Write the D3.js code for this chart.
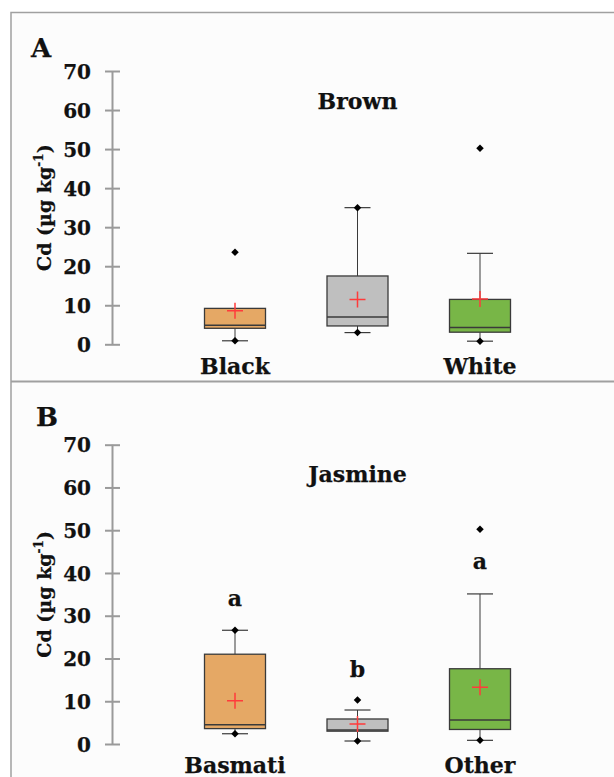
<!DOCTYPE html>
<html><head><meta charset="utf-8">
<script src="https://cdn.jsdelivr.net/npm/d3@7"></script>
<style>body{margin:0;background:#fff}svg{display:block}</style>
</head><body>
<script>
// ---- data ----
const categoriesA = ["Black", "Brown", "White"];
const axisLabelsA = ["Black", "", "White"];
const titleA = "Brown";
const lowA    = [0.9, 3.0, 0.8];
const q1A     = [4.1, 4.7, 3.1];
const medianA = [4.9, 7.0, 4.3];
const q3A     = [9.2, 17.5, 11.5];
const highA   = [9.2, 35.0, 23.3];
const meanA   = [8.6, 11.5, 11.6];
const minA    = [0.9, 3.0, 0.8];
const maxA    = [23.6, 35.0, 50.2];

const categoriesB = ["Basmati", "Jasmine", "Other"];
const axisLabelsB = ["Basmati", "", "Other"];
const titleB = "Jasmine";
const lowB    = [2.4, 0.7, 0.86];
const q1B     = [3.6, 3.0, 3.4];
const medianB = [4.5, 3.3, 5.6];
const q3B     = [21.0, 5.85, 17.6];
const highB   = [26.6, 7.95, 35.1];
const meanB   = [10.1, 4.7, 13.3];
const minB    = [2.4, 0.7, 0.86];
const maxB    = [26.6, 10.3, 50.2];
const lettersB = ["a", "b", "a"];
const letterValB = [32.3, 15.7, 40.9];

const yTicks = [0, 10, 20, 30, 40, 50, 60, 70];
const colors = ["#E5A865", "#BFBFBF", "#78B647"];

// ---- drawing ----
const W = 614, H = 777;
const svg = d3.select("body").append("svg").attr("width", W).attr("height", H);
const FONT = "'DejaVu Serif', serif";
const TXT = "#111";

function styleText(sel, size) {
  return sel.attr("font-family", FONT).attr("font-weight", "bold").attr("font-size", size)
    .attr("fill", TXT).attr("stroke", TXT).attr("stroke-width", 0.25);
}

svg.append("rect").attr("x", 11).attr("y", 12).attr("width", W - 11).attr("height", H - 12).attr("fill", "#fcfcfc");
svg.append("path").attr("d", `M11,${H} V12.5 H${W}`).attr("fill", "none").attr("stroke", "#a0a0a0").attr("stroke-width", 1.5);
svg.append("line").attr("x1", 11).attr("x2", W).attr("y1", 381.5).attr("y2", 381.5).attr("stroke", "#a0a0a0").attr("stroke-width", 2);

function panel(cfg) {
  const g = svg.append("g");
  const x = d3.scalePoint().domain(cfg.cats).range([235, 480]);
  const y = d3.scaleLinear().domain([0, 70]).range(cfg.yRange);
  const axisX = 112.5;

  // axis
  const ax = g.append("g").attr("transform", `translate(${axisX},0)`)
    .call(d3.axisLeft(y).tickValues(yTicks).tickSize(7.5).tickPadding(14));
  ax.select(".domain").remove();
  ax.append("line").attr("y1", y(0)).attr("y2", y(70)).attr("stroke", "#9a9a9a").attr("stroke-width", 2);
  ax.selectAll(".tick line").attr("x2", 7.5).attr("x1", -7.5).attr("stroke", "#9a9a9a").attr("stroke-width", 2);
  styleText(ax.selectAll(".tick text"), 20).attr("dy", "0.36em");

  // axis title
  const tt = styleText(g.append("text"), 19)
    .attr("transform", `translate(51,${(cfg.yRange[0] + cfg.yRange[1]) / 2}) rotate(-90)`)
    .attr("text-anchor", "middle");
  tt.append("tspan").text("Cd (µg kg");
  tt.append("tspan").text("-1").attr("font-size", 12).attr("dy", -8);
  tt.append("tspan").text(")").attr("dy", 8);

  // panel letter
  styleText(g.append("text"), 26).attr("x", cfg.letterPos[0]).attr("y", cfg.letterPos[1]).text(cfg.panel);

  // title
  styleText(g.append("text"), 22).attr("x", x(cfg.cats[1])).attr("y", cfg.titleY).text(cfg.title)
    .attr("text-anchor", "middle");

  const bw = 61, cw = 26;
  cfg.cats.forEach((c, i) => {
    const cx = x(c);
    const s = g.append("g");
    // whiskers
    s.append("line").attr("x1", cx).attr("x2", cx).attr("y1", y(cfg.q3[i])).attr("y2", y(cfg.high[i]))
      .attr("stroke", "#3a3a3a").attr("stroke-width", 1);
    s.append("line").attr("x1", cx).attr("x2", cx).attr("y1", y(cfg.q1[i])).attr("y2", y(cfg.low[i]))
      .attr("stroke", "#3a3a3a").attr("stroke-width", 1);
    if (cfg.high[i] > cfg.q3[i])
      s.append("line").attr("x1", cx - cw / 2).attr("x2", cx + cw / 2).attr("y1", y(cfg.high[i])).attr("y2", y(cfg.high[i]))
        .attr("stroke", "#3a3a3a").attr("stroke-width", 1.2);
    s.append("line").attr("x1", cx - cw / 2).attr("x2", cx + cw / 2).attr("y1", y(cfg.low[i])).attr("y2", y(cfg.low[i]))
      .attr("stroke", "#3a3a3a").attr("stroke-width", 1.2);
    // box
    s.append("rect").attr("x", cx - bw / 2).attr("y", y(cfg.q3[i])).attr("width", bw)
      .attr("height", y(cfg.q1[i]) - y(cfg.q3[i])).attr("fill", colors[i])
      .attr("stroke", "#3a3a3a").attr("stroke-width", 1.3);
    s.append("line").attr("x1", cx - bw / 2).attr("x2", cx + bw / 2).attr("y1", y(cfg.median[i])).attr("y2", y(cfg.median[i]))
      .attr("stroke", "#3a3a3a").attr("stroke-width", 1.5);
    // min / max points
    [cfg.min[i], cfg.max[i]].forEach(v => {
      s.append("path").attr("d", d3.symbol(d3.symbolSquare, 28)())
        .attr("transform", `translate(${cx},${y(v)}) rotate(45)`).attr("fill", "#000");
    });
    // mean
    s.append("path").attr("d", `M${cx - 8},${y(cfg.mean[i])}h16M${cx},${y(cfg.mean[i]) - 8}v16`)
      .attr("stroke", "#ff3b3b").attr("stroke-width", 1.5);
    // category label
    styleText(g.append("text"), 22).attr("x", cx).attr("y", cfg.catY).text(cfg.labels[i])
      .attr("text-anchor", "middle");
    if (cfg.letters)
      styleText(g.append("text"), 22).attr("x", cx).attr("y", y(cfg.letterVal[i])).text(cfg.letters[i])
        .attr("text-anchor", "middle");
  });
}

panel({ cats: categoriesA, labels: axisLabelsA, title: titleA, panel: "A",
  low: lowA, q1: q1A, median: medianA, q3: q3A, high: highA, mean: meanA, min: minA, max: maxA,
  yRange: [344.3, 71], titleY: 109, catY: 374, letterPos: [31, 57] });
panel({ cats: categoriesB, labels: axisLabelsB, title: titleB, panel: "B",
  low: lowB, q1: q1B, median: medianB, q3: q3B, high: highB, mean: meanB, min: minB, max: maxB,
  letters: lettersB, letterVal: letterValB,
  yRange: [744, 444.7], titleY: 481.7, catY: 773, letterPos: [36, 426] });
</script>
</body></html>
